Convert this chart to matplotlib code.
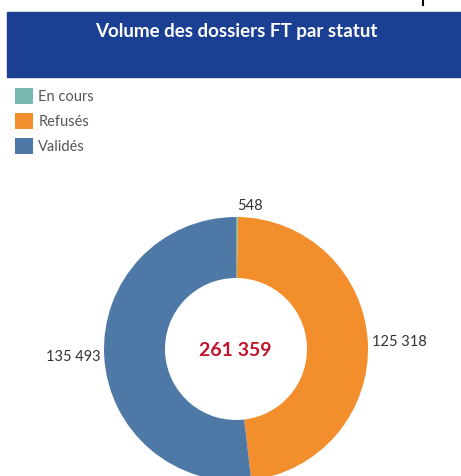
import numpy as np
from matplotlib import pyplot as plt
from matplotlib.patches import Rectangle

plt.rcParams['font.family'] = ['Lato', 'DejaVu Sans']

# donnees
statuts = ['En cours', 'Refusés', 'Validés']
volumes = [548, 125318, 135493]
couleurs = ['#76b7b2', '#f28e2b', '#4e79a7']
titre = 'Volume des dossiers FT par statut'


def fmt(v):
    """Format francais avec espace fine comme separateur de milliers"""
    return f'{v:,}'.replace(',', '\u202f')


W, H = 461, 476
centre = (236, H - 349)
fig = plt.figure(figsize=(W / 100, H / 100), dpi=100)
ax = fig.add_axes([0, 0, 1, 1])

# bandeau du titre
ax.add_patch(Rectangle((7, H - 77), W - 7, 65, color='#1b3f93', zorder=1))
ax.text(236, H - 32, titre, color='white', fontsize=13.5, fontweight='bold',
        ha='center', va='center', zorder=2)
ax.plot([423, 423], [H, H - 5], color='black', lw=1.5)

# anneau
wedges, texts = ax.pie(volumes, labels=[fmt(v) for v in volumes], colors=couleurs,
                       startangle=90, counterclock=False, center=centre,
                       radius=132, labeldistance=1.03,
                       wedgeprops=dict(width=61, linewidth=0),
                       textprops=dict(color='#333333', fontsize=10.5))
# alignement des etiquettes selon leur position autour du centre
for t in texts:
    x, y = t.get_position()
    dx, dy = x - centre[0], y - centre[1]
    if abs(dy) > abs(dx):
        t.set_ha('left' if dx >= 0 else 'right')
        t.set_va('bottom' if dy > 0 else 'top')
    else:
        t.set_ha('left' if dx > 0 else 'right')
        t.set_va('center')

ax.text(235, H - 350, fmt(sum(volumes)), color='#c0142b', fontsize=14,
        fontweight='bold', ha='center', va='center')

ax.legend(wedges, statuts, loc='upper left', bbox_to_anchor=(15, H - 88),
          bbox_transform=ax.transData, frameon=False, fontsize=10.5,
          handlelength=1.2, handleheight=1.3, handletextpad=0.4,
          labelspacing=0.62, labelcolor='#555555', borderaxespad=0, borderpad=0)

ax.set_xlim(0, W)
ax.set_ylim(0, H)
ax.set_aspect('equal')
ax.axis('off')

plt.savefig('out.png', dpi=100)
